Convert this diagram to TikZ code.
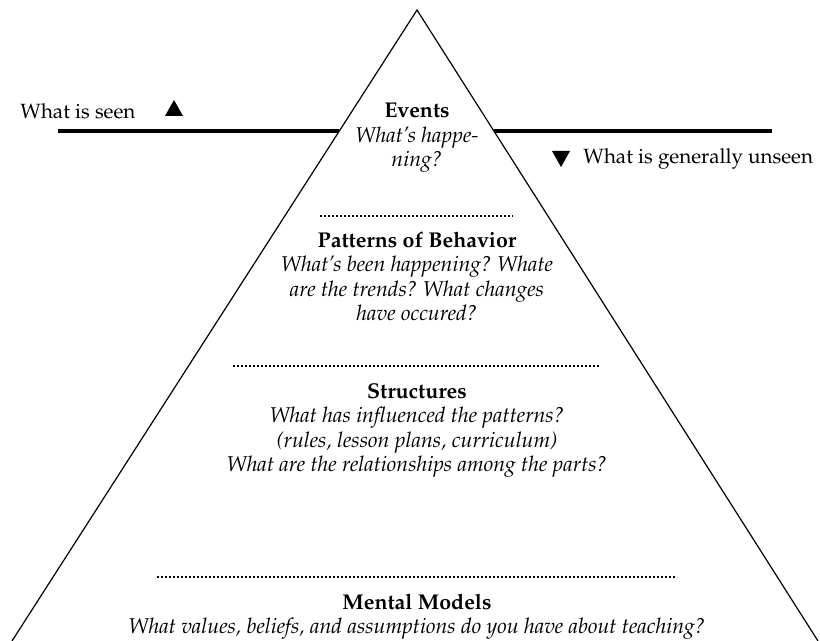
\documentclass[tikz,border=0pt]{standalone}
\usepackage[T1]{fontenc}
\usepackage{mathpazo}
\frenchspacing
\begin{document}
\begin{tikzpicture}[x=0.5pt, y=-0.5pt]
  \tikzstyle{lvl}=[font=\fontsize{10.7}{12.25}\selectfont, align=center, inner sep=0pt, anchor=base]
  \tikzstyle{side}=[font=\fontsize{10.3}{12.25}\selectfont, inner sep=0pt, anchor=base west]
  \tikzstyle{rim}=[line width=0.6pt]
  \tikzstyle{water}=[line width=2pt]
  \tikzstyle{dots}=[line width=0.9pt, dash pattern=on 0.9pt off 1.1pt]
  \tikzstyle{tri}=[fill=black]
  \useasboundingbox (0,0) rectangle (820,641);

  % iceberg
  \coordinate (apex) at (417,10);
  \coordinate (bl) at (12,641);
  \coordinate (br) at (818,641);
  \draw[rim] (bl) -- (apex) -- (br);

  % water line
  \coordinate (wl1) at (58,131);
  \coordinate (wl2) at (339,131);
  \coordinate (wr1) at (494,131);
  \coordinate (wr2) at (772,131);
  \draw[water] (wl1) -- (wl2);
  \draw[water] (wr1) -- (wr2);

  \node[side] (seen) at (20,119) {What is seen};
  \node[side] (unseen) at (583,164) {What is generally unseen};
  \fill[tri] (165,116) -- (183,116) -- (174,100) -- cycle;
  \fill[tri] (552,151) -- (570,151) -- (561,167) -- cycle;

  % levels (base = last line)
  \node[lvl] (events) at (417,167) {\textbf{Events}\\\textit{What's happe-}\\\textit{ning?}};
  \node[lvl] (patterns) at (417,321) {\textbf{Patterns of Behavior}\\
    \textit{What's been happening? Whate}\\
    \textit{are the trends? What changes}\\
    \textit{have occured?}};
  \node[lvl] (structures) at (417,472) {\textbf{Structures}\\
    \textit{What has influenced the patterns?}\\
    \textit{(rules, lesson plans, curriculum)}\\
    \textit{What are the relationships among the parts?}};
  \node[lvl] (models) at (417,634) {\textbf{Mental Models}\\
    \textit{What values, beliefs, and assumptions do you have about teaching?}};

  \coordinate (d1a) at (320,216);
  \coordinate (d1b) at (513,216);
  \coordinate (d2a) at (233,366);
  \coordinate (d2b) at (599,366);
  \coordinate (d3a) at (157,577);
  \coordinate (d3b) at (677,577);
  \foreach \src/\dst in {d1a/d1b, d2a/d2b, d3a/d3b} {%
    \draw[dots] (\src) -- (\dst);
  }
\end{tikzpicture}
\end{document}
